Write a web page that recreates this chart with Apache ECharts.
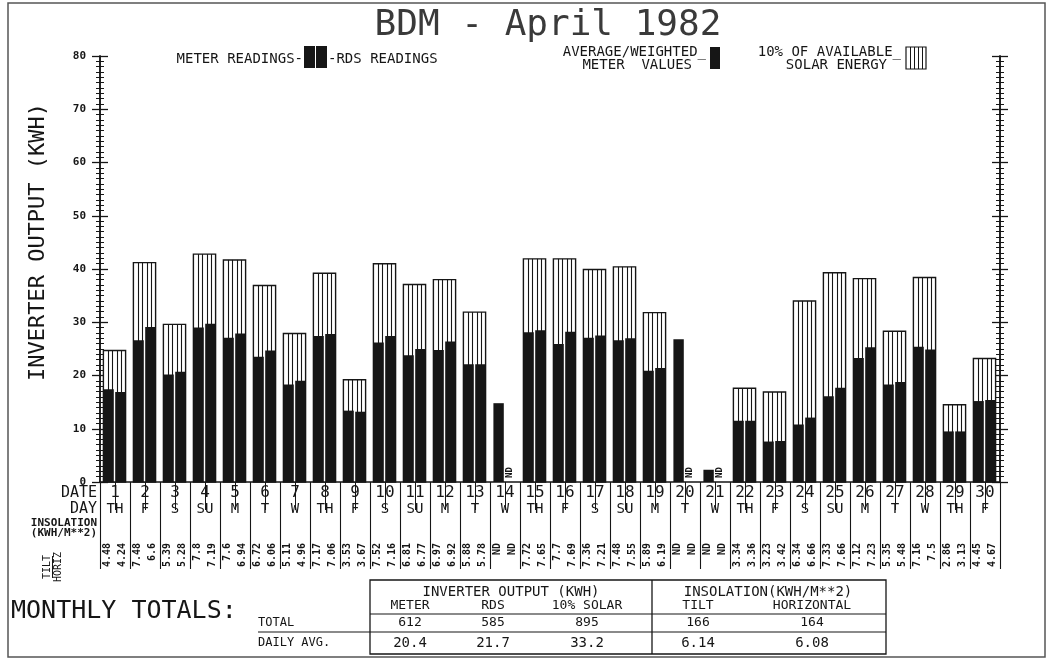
<!DOCTYPE html>
<html>
<head>
<meta charset="utf-8">
<script src="https://cdn.jsdelivr.net/npm/echarts@6/dist/echarts.min.js"></script>
<style>html,body{margin:0;padding:0;background:#fff}#c{width:1048px;height:661px}</style>
</head>
<body>
<div id="c"></div>
<script>
// ---------- data ----------
const dates = ['1','2','3','4','5','6','7','8','9','10','11','12','13','14','15','16','17','18','19','20','21','22','23','24','25','26','27','28','29','30'];
const days = ['TH','F','S','SU','M','T','W','TH','F','S','SU','M','T','W','TH','F','S','SU','M','T','W','TH','F','S','SU','M','T','W','TH','F'];
// meter readings (days 14, 20, 21: average/weighted meter values)
const meter = [17.4,26.6,20.2,29.0,27.1,23.5,18.3,27.4,13.4,26.2,23.8,24.8,22.1,14.8,28.1,25.9,27.1,26.6,20.9,26.8,2.3,11.5,7.6,10.8,16.1,23.3,18.3,25.4,9.5,15.2];
const rds = [16.9,29.1,20.7,29.7,27.9,24.7,19.0,27.8,13.2,27.4,25.0,26.4,22.1,null,28.5,28.2,27.5,27.0,21.4,null,null,11.5,7.7,12.1,17.7,25.3,18.8,24.9,9.5,15.4];
const solar10 = [24.7,41.2,29.6,42.8,41.7,36.9,27.9,39.2,19.2,41.0,37.1,38.0,31.9,null,41.9,41.9,39.9,40.4,31.8,null,null,17.6,16.9,34.0,39.3,38.2,28.3,38.4,14.5,23.2];
const tilt = ['4.48','7.48','5.39','7.8','7.6','6.72','5.11','7.17','3.53','7.52','6.81','6.97','5.88','ND','7.72','7.7','7.36','7.48','5.89','ND','ND','3.34','3.23','6.34','7.33','7.12','5.35','7.16','2.86','4.45'];
const horiz = ['4.24','6.6','5.28','7.19','6.94','6.06','4.96','7.06','3.67','7.16','6.77','6.92','5.78','ND','7.65','7.69','7.21','7.55','6.19','ND','ND','3.36','3.42','6.66','7.66','7.23','5.48','7.5','3.13','4.67'];
const yTicks = [0, 80, 10];
const tableCols = ['METER','RDS','10% SOLAR','TILT','HORIZONTAL'];
const totals = ['612','585','895','166','164'];
const dailyAvg = ['20.4','21.7','33.2','6.14','6.08'];

// ---------- style ----------
const FONT = "'DejaVu Sans Mono', 'Liberation Mono', monospace";
const INK = '#161616';
const BOXW = 0.74;

function boxGeom(api, i, v) {
  const b = api.coord([i, 0]);
  const t = api.coord([i, v]);
  const w = api.size([1, 0])[0] * BOXW;
  return { x0: b[0] - w / 2 - 0.5, w: w, yb: b[1], yt: t[1] };
}

function hatchItem(params, api) {
  const g = boxGeom(api, api.value(0), api.value(1));
  const ch = [{ type: 'rect', shape: { x: g.x0, y: g.yt, width: g.w, height: g.yb - g.yt },
    style: { fill: '#fff', stroke: INK, lineWidth: 1.4 } }];
  for (let k = 1; k < 5; k++) {
    const x = Math.round(g.x0 + g.w * k / 5) + 0.5;
    ch.push({ type: 'line', shape: { x1: x, y1: g.yt, x2: x, y2: g.yb }, style: { stroke: INK, lineWidth: 1.1 } });
  }
  return { type: 'group', children: ch };
}
function darkItem(side) {
  return function (params, api) {
    const g = boxGeom(api, api.value(0), api.value(1));
    const half = g.w / 2;
    const x = side === 0 ? g.x0 : g.x0 + half + 0.7;
    return { type: 'rect', shape: { x: x, y: g.yt, width: half - 0.7, height: g.yb - g.yt }, style: { fill: INK } };
  };
}
function ndItem(params, api) {
  const g = boxGeom(api, api.value(0), 0);
  return { type: 'text', x: g.x0 + g.w * 0.75, y: g.yb - 4, rotation: Math.PI / 2,
    style: { text: 'ND', fontFamily: FONT, fontSize: 9, fontWeight: 'bold', fill: INK, align: 'left', verticalAlign: 'middle' } };
}

const pairs = arr => arr.map((v, i) => [i, v]).filter(d => d[1] != null);
const ndData = rds.map((v, i) => [i, v]).filter(d => d[1] == null).map(d => [d[0], 0]);
const insolLabels = [];
tilt.forEach((t, i) => { insolLabels.push(t); insolLabels.push(horiz[i]); });

const yBase = {
  type: 'value', min: yTicks[0], max: yTicks[1], interval: yTicks[2],
  splitLine: { show: false }, minorSplitLine: { show: false },
  axisLine: { show: true, lineStyle: { color: INK, width: 1.5 } },
  minorTick: { show: true, splitNumber: 10, length: 4, lineStyle: { color: INK, width: 1 } },
  axisTick: { show: true, length: 8, lineStyle: { color: INK, width: 1.3 } },
  axisLabel: { show: false }
};

const txt = (x, y, text, size, align, extra) => Object.assign({ type: 'text', x: x, y: y,
  style: { text: text, fontFamily: FONT, fontSize: size, fill: INK, align: align || 'left', verticalAlign: 'middle' } }, extra || {});
const ln = (x1, y1, x2, y2, w) => ({ type: 'line', shape: { x1: x1, y1: y1, x2: x2, y2: y2 }, style: { stroke: INK, lineWidth: w || 1.2 } });

const colX = [410, 493, 587, 698, 812];
const LY = 46; // legend box top
const graphics = [
  { type: 'rect', shape: { x: 8, y: 3, width: 1037, height: 654 }, style: { fill: 'none', stroke: '#555', lineWidth: 1.5 } },
  { type: 'text', x: 548, y: 26, style: { text: 'BDM - April 1982', fontFamily: FONT, fontSize: 36, fill: '#3a3a3a', align: 'center', verticalAlign: 'middle' } },
  txt(38, 242, 'INVERTER OUTPUT (KWH)', 22, 'center', { rotation: Math.PI / 2 }),
  // legend
  txt(303, LY + 13, 'METER READINGS-', 14, 'right'),
  { type: 'rect', shape: { x: 304, y: LY, width: 11, height: 22 }, style: { fill: INK } },
  { type: 'rect', shape: { x: 316, y: LY, width: 11, height: 22 }, style: { fill: INK } },
  txt(328, LY + 13, '-RDS READINGS', 14, 'left'),
  txt(706, LY + 6, 'AVERAGE/WEIGHTED_', 14, 'right'),
  txt(692, LY + 19, 'METER  VALUES', 14, 'right'),
  { type: 'rect', shape: { x: 710, y: LY + 1, width: 10, height: 22 }, style: { fill: INK } },
  txt(901, LY + 6, '10% OF AVAILABLE_', 14, 'right'),
  txt(887, LY + 19, 'SOLAR ENERGY', 14, 'right'),
  { type: 'rect', shape: { x: 906, y: LY + 1, width: 20, height: 22 }, style: { fill: '#fff', stroke: INK, lineWidth: 1.2 } },
  ln(910.5, LY + 1, 910.5, LY + 23, 1), ln(914.5, LY + 1, 914.5, LY + 23, 1), ln(918.5, LY + 1, 918.5, LY + 23, 1), ln(922.5, LY + 1, 922.5, LY + 23, 1),
  // row labels
  txt(97, 493, 'DATE', 15, 'right'),
  txt(97, 509, 'DAY', 15, 'right'),
  { type: 'text', x: 97, y: 523, style: { text: 'INSOLATION', fontFamily: FONT, fontSize: 11, fontWeight: 'bold', fill: INK, align: 'right', verticalAlign: 'middle' } },
  { type: 'text', x: 97, y: 533, style: { text: '(KWH/M**2)', fontFamily: FONT, fontSize: 11, fontWeight: 'bold', fill: INK, align: 'right', verticalAlign: 'middle' } },
  txt(47, 567, 'TILT', 10, 'center', { rotation: Math.PI / 2 }),
  ln(52.5, 556, 52.5, 578, 1),
  txt(58, 567, 'HORIZ', 10, 'center', { rotation: Math.PI / 2 }),
  // monthly totals
  txt(11, 611, 'MONTHLY TOTALS:', 25, 'left'),
  txt(258, 623, 'TOTAL', 12, 'left'),
  txt(258, 643, 'DAILY AVG.', 12, 'left'),
  { type: 'rect', shape: { x: 370, y: 580, width: 516, height: 74 }, style: { fill: 'none', stroke: INK, lineWidth: 1.3 } },
  ln(652, 580, 652, 654, 1.3),
  ln(370, 614, 886, 614, 1.2),
  ln(258, 632, 886, 632, 1.2),
  txt(511, 592, 'INVERTER OUTPUT (KWH)', 14, 'center'),
  txt(768, 592, 'INSOLATION(KWH/M**2)', 14, 'center')
];
tableCols.forEach((c, k) => graphics.push(txt(colX[k], 606, c, 13, 'center')));
totals.forEach((c, k) => graphics.push(txt(colX[k], 623, c, 13, 'center')));
dailyAvg.forEach((c, k) => graphics.push(txt(colX[k], 643, c, 14, 'center')));

const option = {
  animation: false,
  backgroundColor: '#fff',
  grid: { left: 100, right: 48, top: 56, bottom: 179, containLabel: false },
  xAxis: [
    {
      type: 'category', data: dates, position: 'bottom',
      axisLine: { show: true, lineStyle: { color: INK, width: 1.5 } },
      axisTick: { show: true, length: 87, interval: 0, lineStyle: { color: INK, width: 1.1 } },
      axisLabel: {
        interval: 0, margin: 3, color: INK, fontFamily: FONT,
        formatter: (v, i) => '{d|' + v + '}\n{w|' + days[i] + '}',
        rich: { d: { fontFamily: FONT, fontSize: 16, lineHeight: 16, color: INK }, w: { fontFamily: FONT, fontSize: 14, lineHeight: 16, color: INK } }
      }
    },
    {
      type: 'category', data: insolLabels, position: 'bottom', offset: 58,
      axisLine: { show: false },
      axisTick: { show: true, length: 28, interval: 0, lineStyle: { color: INK, width: 1 } },
      axisLabel: { interval: 0, rotate: 90, margin: 3, fontFamily: FONT, fontSize: 10, fontWeight: 'bold', color: INK }
    }
  ],
  yAxis: [
    Object.assign({}, yBase, { position: 'left', axisLabel: { show: true, margin: 14, fontFamily: FONT, fontSize: 11, fontWeight: 'bold', color: INK } }),
    Object.assign({}, yBase, { position: 'left', axisTick: Object.assign({}, yBase.axisTick, { inside: true }) }),
    Object.assign({}, yBase, { position: 'right' }),
    Object.assign({}, yBase, { position: 'right', axisTick: Object.assign({}, yBase.axisTick, { inside: true }) })
  ],
  series: [
    { type: 'custom', name: '10% of available solar energy', renderItem: hatchItem, data: pairs(solar10), encode: { x: 0, y: 1 }, z: 2 },
    { type: 'custom', name: 'Meter readings', renderItem: darkItem(0), data: pairs(meter), encode: { x: 0, y: 1 }, z: 3 },
    { type: 'custom', name: 'RDS readings', renderItem: darkItem(1), data: pairs(rds), encode: { x: 0, y: 1 }, z: 3 },
    { type: 'custom', name: 'ND', renderItem: ndItem, data: ndData, encode: { x: 0, y: 1 }, z: 4 }
  ],
  graphic: { elements: graphics }
};
const chart = echarts.init(document.getElementById('c'));
chart.setOption(option);
</script>
</body>
</html>
